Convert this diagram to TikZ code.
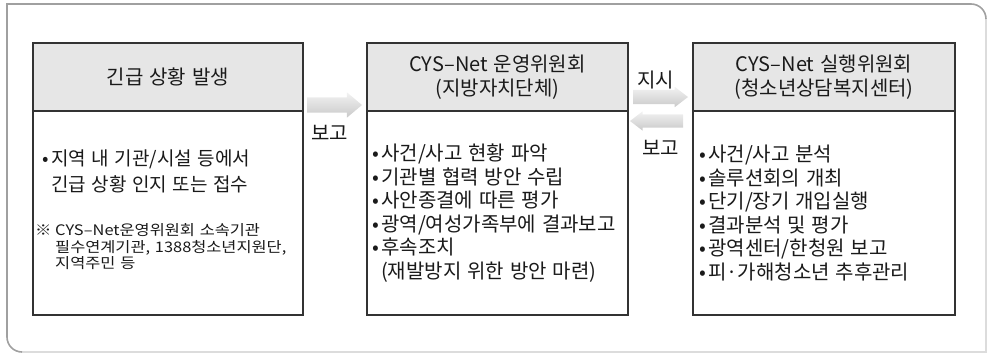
\documentclass[tikz,border=0pt]{standalone}
\usepackage{fontspec}
\setmainfont{Noto Sans CJK KR}[WordSpace=1.3]
\newfontfamily\notefont{Noto Sans CJK KR}[FakeStretch=1.13,WordSpace=1.3]
\usetikzlibrary{positioning,calc,shapes.arrows}
\definecolor{CysLine}{HTML}{333333}
\definecolor{CysHead}{HTML}{E6E6E6}
\definecolor{CysFrame}{HTML}{A0A0A0}
\definecolor{CysFrameLight}{HTML}{DCDCDC}
\definecolor{CysText}{HTML}{1A1A1A}
\newcommand{\itm}{\makebox[9pt][l]{•}}
\newcommand{\hang}{\hspace*{9pt}}
\newcommand{\notemark}{\makebox[20pt][l]{※}}
\newcommand{\notehang}{\hspace*{20pt}}

\begin{document}
\begin{tikzpicture}[x=1pt,y=1pt,
    headbox/.style={draw=CysLine,line width=1.2pt,fill=CysHead,outer sep=0pt,
      inner sep=0pt,minimum height=68pt,align=center,text=CysText,
      font=\fontsize{20}{24}\selectfont},
    bodybox/.style={draw=CysLine,line width=1.2pt,fill=white,outer sep=0pt,
      inner sep=0pt,minimum height=204pt},
    listtext/.style={inner sep=0pt,align=left,text=CysText,
      font=\fontsize{20}{23.5}\selectfont},
    fatarrow/.style={single arrow,draw=none,top color=gray!10,bottom color=gray!42,
      inner xsep=0pt,outer sep=0pt,single arrow head indent=0pt},
    lbl/.style={inner sep=0pt,text=CysText,font=\fontsize{20}{24}\selectfont}]
  \useasboundingbox (0,0) rectangle (987,353);
  % outer frame
  \draw[CysFrameLight,line width=1.6pt] (22,1) -- (986,1) -- (986,334);
  \draw[CysFrame,line width=1.6pt] (986,334) arc[start angle=0,end angle=90,radius=15]
    -- (7,349) -- (7,16) arc[start angle=180,end angle=270,radius=15];
  % boxes
  \node[headbox,minimum width=270pt] (occur) at (168,276) {긴급 상황 발생};
  \node[bodybox,minimum width=270pt,below=0pt of occur] (occurbody) {};
  \node[headbox,minimum width=261pt] (ops) at (497.5,276) {CYS–Net 운영위원회\\(지방자치단체)};
  \node[bodybox,minimum width=261pt,below=0pt of ops] (opsbody) {};
  \node[headbox,minimum width=262pt] (exec) at (824,276) {CYS–Net 실행위원회\\(청소년상담복지센터)};
  \node[bodybox,minimum width=262pt,below=0pt of exec] (execbody) {};
  % box texts
  \node[listtext,anchor=west,font=\fontsize{19}{26}\selectfont] (occurlist)
    at ($(occurbody.north west)+(9,-60)$)
    {\itm 지역 내 기관/시설 등에서\\\hang 긴급 상황 인지 또는 접수};
  \node[listtext,anchor=west,font=\notefont\fontsize{14.5}{16.5}\selectfont] (occurnote)
    at ($(occurbody.north west)+(2,-136)$)
    {\notemark CYS–Net운영위원회 소속기관\\\notehang 필수연계기관, 1388청소년지원단,\\\notehang 지역주민 등};
  \node[listtext,anchor=west] (opslist) at ([xshift=5pt]opsbody.west)
    {\itm 사건/사고 현황 파악\\\itm 기관별 협력 방안 수립\\\itm 사안종결에 따른 평가\\
     \itm 광역/여성가족부에 결과보고\\\itm 후속조치\\\hang (재발방지 위한 방안 마련)};
  \node[listtext,anchor=west] (execlist) at ([xshift=6pt]execbody.west)
    {\itm 사건/사고 분석\\\itm 솔루션회의 개최\\\itm 단기/장기 개입실행\\
     \itm 결과분석 및 평가\\\itm 광역센터/한청원 보고\\\itm 피·가해청소년 추후관리};
  % block arrows
  \node[fatarrow,inner ysep=7.5pt,single arrow head extend=5pt,single arrow tip angle=80,
    minimum height=55pt,anchor=tail] (toops) at (307,248) {};
  \node[fatarrow,inner ysep=7pt,single arrow head extend=3pt,single arrow tip angle=75,
    minimum height=55pt,anchor=tail] (toexec) at (633,256) {};
  \node[fatarrow,inner ysep=6.5pt,single arrow head extend=3pt,single arrow tip angle=75,
    minimum height=53pt,shape border rotate=180,anchor=tail] (fromexec) at (683,232) {};
  \node[lbl,below=12pt of toops] (toopslbl) {보고};
  \node[lbl,above=1pt of toexec] (toexeclbl) {지시};
  \node[lbl,below=12pt of fromexec] (fromexeclbl) {보고};
\end{tikzpicture}
\end{document}
